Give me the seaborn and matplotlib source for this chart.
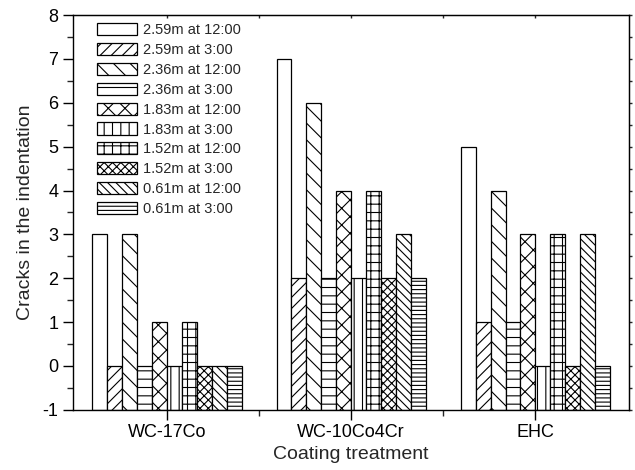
import numpy as np
import pandas as pd
import matplotlib
matplotlib.use('Agg')
import matplotlib.pyplot as plt
from matplotlib.ticker import MultipleLocator, FixedLocator, NullFormatter
import seaborn as sns

coatings = ['WC-17Co', 'WC-10Co4Cr', 'EHC']
series = ['2.59m at 12:00', '2.59m at 3:00', '2.36m at 12:00', '2.36m at 3:00',
          '1.83m at 12:00', '1.83m at 3:00', '1.52m at 12:00', '1.52m at 3:00',
          '0.61m at 12:00', '0.61m at 3:00']
wc17co = [3, 0, 3, 0, 1, 0, 1, 0, 0, 0]
wc10co4cr = [7, 2, 6, 2, 4, 2, 4, 2, 3, 2]
ehc = [5, 1, 4, 1, 3, 0, 3, 0, 3, 0]
hatches = ['', '///', '\\\\', '--', 'xx', '||', '++', 'xxxx', '\\\\\\\\', '----']

rows = []
for coat, vals in zip(coatings, [wc17co, wc10co4cr, ehc]):
    for s, v in zip(series, vals):
        rows.append({'coating': coat, 'series': s, 'cracks': v})
df = pd.DataFrame(rows)
# bars are drawn up from the axis floor at -1
df['height'] = df['cracks'] + 1

sns.set_style('ticks')
plt.rcParams['font.family'] = ['Liberation Sans', 'DejaVu Sans']
plt.rcParams['hatch.linewidth'] = 0.8
plt.rcParams['axes.unicode_minus'] = False

fig = plt.figure(figsize=(6.35, 4.7), dpi=100)
ax = fig.add_axes([0.115, 0.128, 0.876, 0.840])

sns.barplot(data=df, x='coating', y='height', hue='series', order=coatings,
            hue_order=series, color='white', saturation=1, width=0.81,
            edgecolor='black', linewidth=0.9, bottom=-1, legend=False, ax=ax)

for cont, h in zip(ax.containers, hatches):
    for p in cont.patches:
        p.set_facecolor('white')
        p.set_hatch(h)
        p.set_edgecolor('black')

ax.set_xlim(-0.51, 2.51)
ax.set_ylim(-1, 8)
ax.yaxis.set_major_locator(MultipleLocator(1))
ax.yaxis.set_minor_locator(MultipleLocator(0.5))
ax.xaxis.set_minor_locator(FixedLocator([0.5, 1.5]))

for side in ['top', 'right', 'left', 'bottom']:
    ax.spines[side].set_visible(True)
    ax.spines[side].set_linewidth(1.0)
    ax.spines[side].set_color('black')

ax.tick_params(axis='both', which='major', labelsize=13, colors='black',
               length=7, width=1.0, direction='out')
ax.tick_params(axis='both', which='minor', length=4, width=1.0,
               direction='out')

# tiny ticks on the top and right frame
top = ax.secondary_xaxis('top')
top.set_xticks([0, 1, 2])
top.xaxis.set_minor_locator(FixedLocator([0.5, 1.5]))
top.xaxis.set_major_formatter(NullFormatter())
top.tick_params(which='both', direction='in', length=2, width=1.0)
right = ax.secondary_yaxis('right')
right.yaxis.set_major_locator(MultipleLocator(1))
right.yaxis.set_minor_locator(MultipleLocator(0.5))
right.yaxis.set_major_formatter(NullFormatter())
right.tick_params(which='both', direction='out', length=2, width=1.0)

ax.set_xlabel('Coating treatment', fontsize=14, labelpad=3)
ax.set_ylabel('Cracks in the indentation', fontsize=14, labelpad=6)

ax.legend(handles=list(ax.containers), labels=series, loc='upper left',
          bbox_to_anchor=(0.032, 0.995), frameon=False, fontsize=10.5,
          handlelength=2.75, handleheight=0.9, labelspacing=0.4,
          handletextpad=0.45, borderaxespad=0)

fig.savefig('out.png', dpi=100)
